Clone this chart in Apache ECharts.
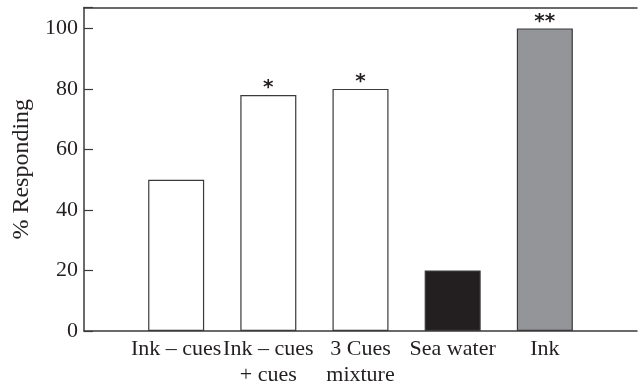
<!DOCTYPE html>
<html>
<head>
<meta charset="utf-8">
<script src="https://cdn.jsdelivr.net/npm/echarts@6/dist/echarts.min.js"></script>
<style>html,body{margin:0;padding:0;background:#fff;}#c{width:640px;height:388px;}</style>
</head>
<body>
<div id="c"></div>
<script>
const categories = ["", "Ink – cues", "Ink – cues\n+ cues", "3 Cues\nmixture", "Sea water", "Ink", ""];
const values = [null, 50, 78, 80, 20, 100, null];
const fills = ["#ffffff", "#ffffff", "#ffffff", "#ffffff", "#231f20", "#939598", "#ffffff"];
const marks = ["", "", "*", "*", "", "**", ""];
const yTicks = [0, 20, 40, 60, 80, 100];

const chart = echarts.init(document.getElementById('c'));
const serif = "'Liberation Serif', 'DejaVu Serif', serif";
chart.setOption({
  animation: false,
  grid: { left: 84, right: 0, top: 7.5, bottom: 56, containLabel: false },
  xAxis: [{
    type: 'category',
    data: categories,
    boundaryGap: false,
    axisLine: { lineStyle: { color: '#3a3a3a', width: 1.5 } },
    axisTick: { show: false },
    axisLabel: { color: '#231f20', fontFamily: serif, fontSize: 22, margin: 5, lineHeight: 26, interval: 0 },
    splitLine: { show: false }
  }, {
    type: 'category',
    position: 'top',
    data: categories,
    boundaryGap: false,
    axisLine: { show: true, lineStyle: { color: '#3a3a3a', width: 1.5 } },
    axisTick: { show: false },
    axisLabel: { show: false }
  }],
  yAxis: {
    type: 'value',
    min: 0,
    max: 106.9,
    interval: 20,
    name: '% Responding',
    nameLocation: 'middle',
    nameGap: 49,
    nameRotate: 90,
    nameTextStyle: { color: '#231f20', fontFamily: serif, fontSize: 24 },
    axisLine: { show: true, lineStyle: { color: '#3a3a3a', width: 1.5 } },
    axisTick: { show: true, inside: true, length: 9, lineStyle: { color: '#3a3a3a', width: 1.2 } },
    axisLabel: {
      color: '#231f20', fontFamily: serif, fontSize: 22, margin: 6,
      formatter: v => (yTicks.indexOf(v) >= 0 ? String(v) : '')
    },
    splitLine: { show: false }
  },
  series: [{
    type: 'bar',
    barWidth: 56,
    data: values.map((v, i) => ({
      value: v,
      itemStyle: { color: fills[i], borderColor: '#3a3a3a', borderWidth: 1.2 },
      label: {
        show: marks[i] !== '',
        position: 'top',
        formatter: marks[i],
        distance: -3,
        color: '#231f20',
        fontFamily: "'DejaVu Sans', sans-serif",
        fontWeight: 'bold',
        fontSize: 20
      }
    }))
  }]
});
</script>
</body>
</html>
